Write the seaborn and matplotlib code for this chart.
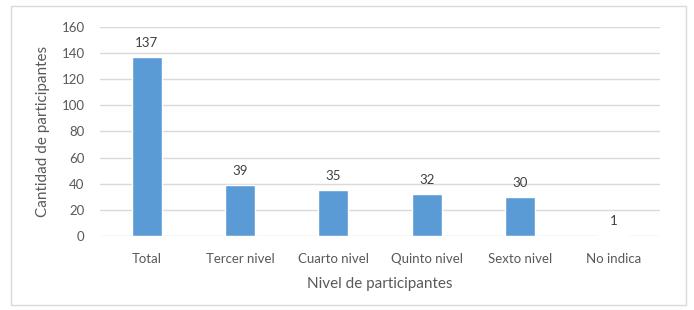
import matplotlib
matplotlib.use("Agg")
import matplotlib.pyplot as plt
import seaborn as sns
import pandas as pd
from matplotlib.patches import Rectangle

niveles = ["Total", "Tercer nivel", "Cuarto nivel", "Quinto nivel", "Sexto nivel", "No indica"]
cantidad = [137, 39, 35, 32, 30, 1]

df = pd.DataFrame({"nivel": niveles, "cantidad": cantidad})

sns.set_style("white")
plt.rcParams["font.family"] = ["Lato", "DejaVu Sans"]

fig = plt.figure(figsize=(6.94, 3.10), dpi=100)
ax = fig.add_axes([0.144, 0.239, 0.807, 0.674])

# outer chart border
fig.patches.append(Rectangle((11 / 694, 5 / 310), 675 / 694, 299 / 310,
                             transform=fig.transFigure, fill=False,
                             edgecolor="#D9D9D9", linewidth=1))

sns.barplot(data=df, x="nivel", y="cantidad", color="#5B9BD5",
            width=0.32, saturation=1, ax=ax)

ax.set_ylim(0, 160)
ax.set_yticks(range(0, 161, 20))
ax.yaxis.grid(True, color="#D9D9D9", linewidth=1)
ax.set_axisbelow(True)
for s in ax.spines.values():
    s.set_visible(False)
ax.tick_params(axis="both", length=0, labelsize=9.5, colors="#595959")
ax.tick_params(axis="y", pad=11)
ax.tick_params(axis="x", pad=12)

for i, v in enumerate(cantidad):
    ax.text(i, v + 6, str(v), ha="center", va="bottom", fontsize=9.5, color="#404040")

ax.set_xlabel("Nivel de participantes", fontsize=11, color="#595959", labelpad=9)
ax.set_ylabel("Cantidad de participantes", fontsize=11, color="#595959", labelpad=8)

fig.savefig("out.png", dpi=100)
